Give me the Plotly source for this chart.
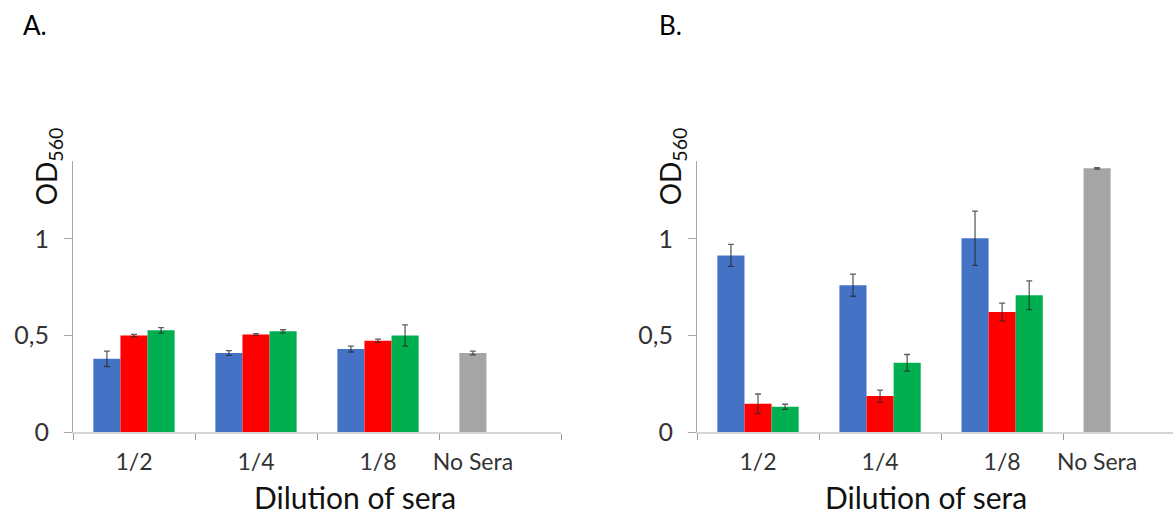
import plotly.graph_objects as go

# ---------------- data ----------------
categories = ["1/2", "1/4", "1/8"]
cat_pos = [0, 1, 2]
nosera_label = "No Sera"

# Panel A
a_blue = [0.38, 0.41, 0.43]
a_blue_err = [0.04, 0.012, 0.015]
a_red = [0.50, 0.505, 0.473]
a_red_err = [0.006, 0.005, 0.008]
a_green = [0.527, 0.522, 0.50]
a_green_err = [0.014, 0.008, 0.055]
a_gray = [0.41]
a_gray_err = [0.01]

# Panel B
b_blue = [0.914, 0.76, 1.003]
b_blue_err = [0.057, 0.057, 0.14]
b_red = [0.148, 0.187, 0.622]
b_red_err = [0.05, 0.031, 0.046]
b_green = [0.132, 0.359, 0.708]
b_green_err = [0.013, 0.043, 0.074]
b_gray = [1.364]
b_gray_err = [0.004]

y_tickvals = [0, 0.5, 1]
y_ticktext = ["0", "0,5", "1"]

# ---------------- style ----------------
W, H = 1173, 513
H_FIG = 525
FONT = "Lato"
C_BLUE = "#4472C4"
C_RED = "#FF0000"
C_GREEN = "#00B050"
C_GRAY = "#A5A5A5"
ERR_COLOR = "rgba(40,40,40,0.75)"
BW = 0.222
OFFS = [-0.333, -0.111, 0.111]


def px_x(p):
    return p / W


def px_y(p):
    return 1 - p / H


fig = go.Figure()


def add_panel(xa, ya, blue, be, red, re, green, ge, gray, gre):
    for vals, errs, col, off in [(blue, be, C_BLUE, OFFS[0]),
                                 (red, re, C_RED, OFFS[1]),
                                 (green, ge, C_GREEN, OFFS[2])]:
        fig.add_trace(go.Bar(
            x=cat_pos, y=vals, width=BW, offset=off,
            marker=dict(color=col, line=dict(width=0)),
            error_y=dict(type="data", array=errs, color=ERR_COLOR,
                         thickness=1.3, width=3),
            xaxis=xa, yaxis=ya, showlegend=False))
    fig.add_trace(go.Bar(
        x=[3], y=gray, width=BW, offset=OFFS[0],
        marker=dict(color=C_GRAY, line=dict(width=0)),
        error_y=dict(type="data", array=gre, color=ERR_COLOR,
                     thickness=1.3, width=3),
        xaxis=xa, yaxis=ya, showlegend=False))


add_panel("x", "y", a_blue, a_blue_err, a_red, a_red_err,
          a_green, a_green_err, a_gray, a_gray_err)
add_panel("x2", "y2", b_blue, b_blue_err, b_red, b_red_err,
          b_green, b_green_err, b_gray, b_gray_err)

x_tickvals = cat_pos + [3 + OFFS[0] + BW / 2]
x_ticktext = categories + [nosera_label]
boundaries = [-0.5, 0.5, 1.5, 2.5, 3.5]

y_dom = [px_y(434), px_y(162)]

xcommon = dict(
    tickmode="array", tickvals=x_tickvals, ticktext=x_ticktext,
    ticks="", showgrid=False, zeroline=False,
    showline=True, linecolor="#D4D4D4", linewidth=2,
    tickfont=dict(family=FONT, size=23, color="#333333"),
    ticklabelstandoff=8,
    minor=dict(tickmode="array", tickvals=boundaries, ticks="outside",
               ticklen=6, tickcolor="#9A9A9A", tickwidth=1, showgrid=False),
    fixedrange=True,
)
ycommon = dict(
    range=[0, 1.4], domain=y_dom,
    tickmode="array", tickvals=y_tickvals, ticktext=y_ticktext,
    ticks="outside", ticklen=8, tickcolor="#A6A6A6", tickwidth=1,
    showgrid=False, zeroline=False,
    showline=True, linecolor="#A6A6A6", linewidth=1,
    tickfont=dict(family=FONT, size=25, color="#333333"),
    ticklabelstandoff=10,
    fixedrange=True,
)

fig.update_layout(
    width=W, height=H_FIG,
    margin=dict(l=0, r=0, t=0, b=0),
    paper_bgcolor="white", plot_bgcolor="white",
    barmode="overlay",
    xaxis=dict(domain=[px_x(73), px_x(561)], range=[-0.5, 3.5], anchor="y", **xcommon),
    yaxis=dict(anchor="x", **ycommon),
    xaxis2=dict(domain=[px_x(697), 1.0], range=[-0.5, 3.4], anchor="y2", **xcommon),
    yaxis2=dict(anchor="x2", **ycommon),
)

ann_font_title = dict(family=FONT, size=30, color="#111111")
annotations = [
    dict(text="A.", x=px_x(21), y=px_y(25), xanchor="left", yanchor="middle",
         font=dict(family=FONT, size=26, color="#000000")),
    dict(text="B.", x=px_x(657), y=px_y(25), xanchor="left", yanchor="middle",
         font=dict(family=FONT, size=26, color="#000000")),
    dict(text="Dilution of sera", x=px_x(355), y=px_y(499), xanchor="center",
         yanchor="middle", font=ann_font_title),
    dict(text="Dilution of sera", x=px_x(926), y=px_y(499), xanchor="center",
         yanchor="middle", font=ann_font_title),
    dict(text="OD<sub>560</sub>", x=px_x(48), y=px_y(167), textangle=-90,
         xanchor="center", yanchor="middle",
         font=dict(family=FONT, size=28, color="#111111")),
    dict(text="OD<sub>560</sub>", x=px_x(672), y=px_y(167), textangle=-90,
         xanchor="center", yanchor="middle",
         font=dict(family=FONT, size=28, color="#111111")),
]
for a in annotations:
    a.update(xref="paper", yref="paper", showarrow=False)
fig.update_layout(annotations=annotations)

page_css = (
    "var s=document.createElement('style');"
    "s.textContent='html,body{margin:0;padding:0;overflow:hidden;}';"
    "document.head.appendChild(s);"
)

fig.write_html(
    "out.html",
    config={"displayModeBar": False},
    post_script=page_css,
)
